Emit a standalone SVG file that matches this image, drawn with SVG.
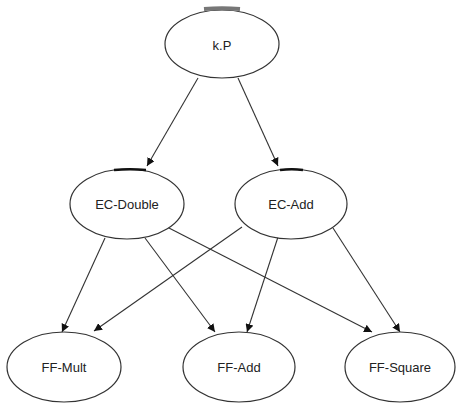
<svg xmlns="http://www.w3.org/2000/svg" width="456" height="404" viewBox="0 0 456 404">
<style>
.n ellipse{fill:#fff;stroke:#333;stroke-width:1.2}
.n text{font-family:"Liberation Sans Narrow","Liberation Sans",Arial,sans-serif;font-size:13px;fill:#222;text-anchor:middle;dominant-baseline:central}
.e line{stroke:#333;stroke-width:1.1}
.bar{fill:none;stroke:#111;stroke-width:2.5}
</style>
<defs>
<marker id="ah" viewBox="0 0 10 10" refX="10" refY="5" markerWidth="8" markerHeight="8" markerUnits="userSpaceOnUse" orient="auto">
<path d="M0,0 L10,5 L0,10 z" fill="#111"/>
</marker>
</defs>
<rect width="456" height="404" fill="#fff"/>
<g id="edges" class="e">
<line x1="198" y1="78" x2="147" y2="166" marker-end="url(#ah)"/>
<line x1="238" y1="78" x2="278" y2="166" marker-end="url(#ah)"/>
<line x1="105" y1="238" x2="62" y2="332" marker-end="url(#ah)"/>
<line x1="145" y1="238" x2="215" y2="332" marker-end="url(#ah)"/>
<line x1="167" y1="227" x2="372" y2="332" marker-end="url(#ah)"/>
<line x1="242" y1="227" x2="94" y2="331" marker-end="url(#ah)"/>
<line x1="278" y1="237" x2="247" y2="332" marker-end="url(#ah)"/>
<line x1="333" y1="228" x2="400" y2="332" marker-end="url(#ah)"/>
</g>
<g id="kP" class="n">
<ellipse cx="222" cy="44" rx="57" ry="34"/>
<path d="M204,9 Q222,7.5 240,9" stroke="#777" stroke-width="4" fill="none"/>
<text x="222" y="45">k.P</text>
</g>
<g id="ECDouble" class="n">
<ellipse cx="127" cy="204" rx="57" ry="35"/>
<path class="bar" d="M114,170 Q130,168.5 146,170"/>
<text x="127" y="204">EC-Double</text>
</g>
<g id="ECAdd" class="n">
<ellipse cx="291" cy="204" rx="56" ry="35"/>
<path class="bar" d="M280,170 Q292,168.5 303,170"/>
<text x="291" y="204">EC-Add</text>
</g>
<g id="FFMult" class="n">
<ellipse cx="64" cy="367" rx="57" ry="35"/>
<text x="64" y="367">FF-Mult</text>
</g>
<g id="FFAdd" class="n">
<ellipse cx="239" cy="367" rx="56" ry="35"/>
<text x="239" y="367">FF-Add</text>
</g>
<g id="FFSquare" class="n">
<ellipse cx="400" cy="367" rx="55" ry="35"/>
<text x="400" y="367">FF-Square</text>
</g>
</svg>
